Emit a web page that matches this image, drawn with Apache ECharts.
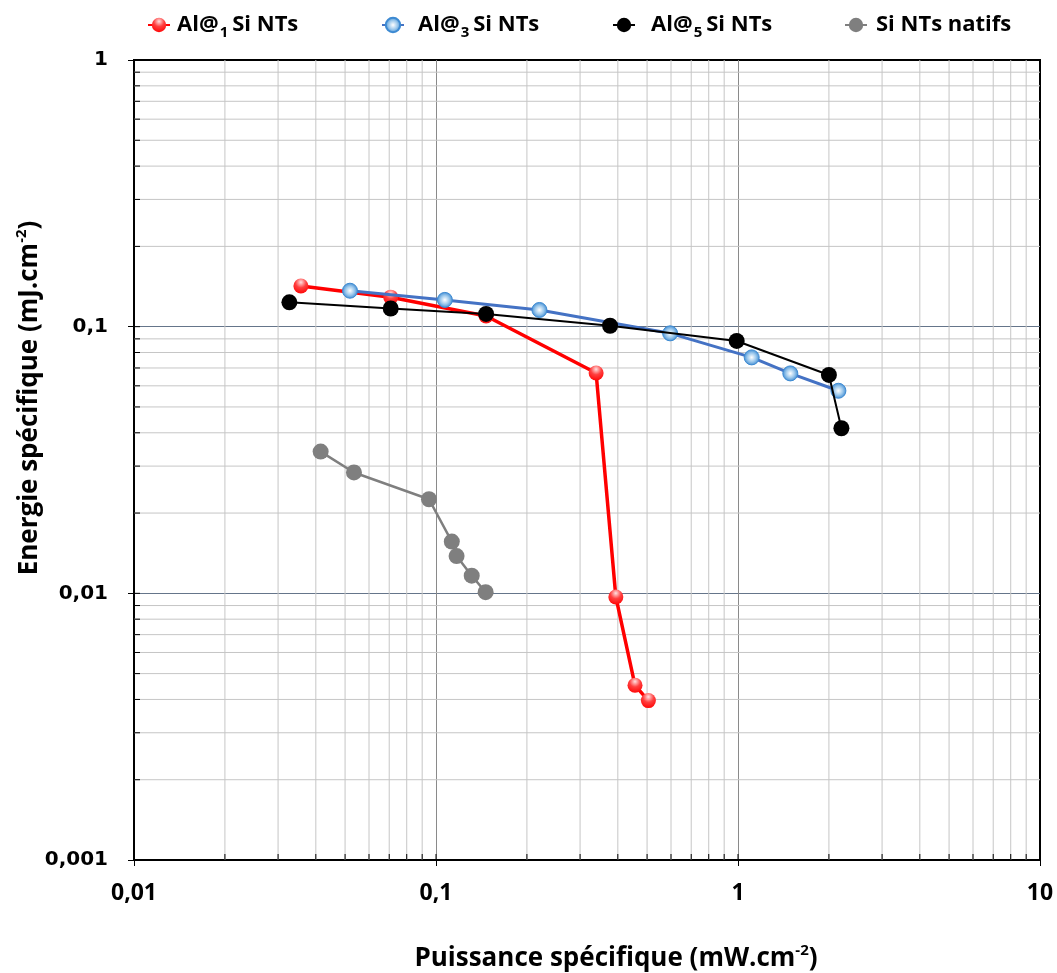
<!DOCTYPE html>
<html>
<head>
<meta charset="utf-8">
<script src="https://cdn.jsdelivr.net/npm/echarts@6/dist/echarts.min.js"></script>
<style>html,body{margin:0;padding:0;background:#fff}#c{width:1057px;height:973px}</style>
</head>
<body>
<div id="c"></div>
<script>
// ---- Data (x: Puissance spécifique mW/cm², y: Energie spécifique mJ/cm²) ----
const al1Power  = [0.0357, 0.0708, 0.1465, 0.339, 0.394, 0.456, 0.505];
const al1Energy = [0.142, 0.129, 0.1096, 0.067, 0.00969, 0.00452, 0.00396];

const al3Power  = [0.0519, 0.107, 0.220, 0.596, 1.11, 1.49, 2.15];
const al3Energy = [0.1364, 0.126, 0.1155, 0.0944, 0.0767, 0.0668, 0.0575];

const al5Power  = [0.0327, 0.0708, 0.1465, 0.377, 0.99, 2.00, 2.20];
const al5Energy = [0.1234, 0.117, 0.1116, 0.1008, 0.0884, 0.0659, 0.0416];

const siPower   = [0.0415, 0.0535, 0.0948, 0.1128, 0.117, 0.1313, 0.146];
const siEnergy  = [0.0340, 0.0284, 0.02253, 0.01563, 0.0138, 0.01165, 0.0101];

const seriesNames = ['Al@1 Si NTs', 'Al@3 Si NTs', 'Al@5 Si NTs', 'Si NTs natifs'];
const legendLabels = ['{n|Al@}{s|1}{n|Si NTs}', '{n|Al@}{s|3}{n|Si NTs}', '{n|Al@}{s|5}{n|Si NTs}', '{n|Si NTs natifs}'];

const xMajorTicks = [0.01, 0.1, 1, 10];
const yMajorTicks = [0.001, 0.01, 0.1, 1];
const xTitle = '{t|Puissance spécifique (mW.cm}{sup|-2}{t|)}';
const yTitle = '{t|Energie spécifique (mJ.cm}{sup|-2}{t|)}';

// minor (2..9) values per decade
function minorValues(decades) {
  const out = [];
  decades.forEach(d => { for (let k = 2; k <= 9; k++) out.push(+(d * k).toPrecision(3)); });
  return out;
}
const xMinor = minorValues([0.01, 0.1, 1]);
const yMinor = minorValues([0.001, 0.01, 0.1]);

const X_MIN = 0.01, X_MAX = 10, Y_MIN = 0.001, Y_MAX = 1;

function pairs(xs, ys) { return xs.map((x, i) => [x, ys[i]]); }

const chart = echarts.init(document.getElementById('c'), null, {renderer: 'canvas'});

const redMarker = {type: 'radial', x: 0.5, y: 0.25, r: 0.8,
  colorStops: [{offset: 0, color: '#ffe0e0'}, {offset: 0.45, color: '#ff4040'}, {offset: 1, color: '#ff0000'}]};
const blueMarker = {type: 'radial', x: 0.5, y: 0.5, r: 0.5,
  colorStops: [{offset: 0, color: '#ffffff'}, {offset: 0.55, color: '#9cc8ec'}, {offset: 1, color: '#3d8ad2'}]};

const gridLineStyle = {stroke: '#c6c6c6', lineWidth: 1};

const xGridSeries = {
  type: 'custom', name: 'xgrid', silent: true, z: 1, clip: false,
  data: xMinor.map(v => [v, 0.01, 1]).concat(xMajorTicks.map(v => [v, 0.01, 0])),
  encode: {x: 0, y: 1},
  renderItem: function (params, api) {
    const v = api.value(0);
    const top = api.coord([v, Y_MAX]);
    const bot = api.coord([v, Y_MIN]);
    const children = [];
    if (api.value(2) === 1) {
      children.push({type: 'line', shape: {x1: top[0], y1: top[1], x2: bot[0], y2: bot[1]}, style: gridLineStyle});
    }
    children.push({type: 'line', shape: {x1: bot[0], y1: bot[1], x2: bot[0], y2: bot[1] - 6}, style: {stroke: '#000', lineWidth: 1}, z2: 10});
    return {type: 'group', children: children};
  }
};
const yGridSeries = {
  type: 'custom', name: 'ygrid', silent: true, z: 1, clip: false,
  data: yMinor.map(v => [0.1, v, 1]).concat(yMajorTicks.map(v => [0.1, v, 0])),
  encode: {x: 0, y: 1},
  renderItem: function (params, api) {
    const v = api.value(1);
    const l = api.coord([X_MIN, v]);
    const r = api.coord([X_MAX, v]);
    const children = [];
    if (api.value(2) === 1) {
      children.push({type: 'line', shape: {x1: l[0], y1: l[1], x2: r[0], y2: r[1]}, style: gridLineStyle});
    }
    children.push({type: 'line', shape: {x1: l[0], y1: l[1], x2: l[0] + 6, y2: l[1]}, style: {stroke: '#000', lineWidth: 1}, z2: 10});
    return {type: 'group', children: children};
  }
};

function fmt(v) { return String(parseFloat(Number(v).toPrecision(6))).replace('.', ','); }

const legendRich = {
  n: {fontFamily: 'Open Sans', fontWeight: 'bold', fontSize: 22, color: '#000', lineHeight: 30},
  s: {fontFamily: 'Open Sans', fontWeight: 'bold', fontSize: 15, color: '#000', verticalAlign: 'bottom', lineHeight: 22, padding: [0, 4, 0, 1]}
};
const legendLefts = [142, 376, 607, 839];
const legendTextPad = [2, 9, 11, 4];
const legends = seriesNames.map((nm, i) => ({
  data: [nm], left: legendLefts[i], top: 9, itemWidth: 22, itemHeight: 18, itemGap: 6,
  formatter: () => legendLabels[i],
  textStyle: {rich: legendRich, padding: [0, 0, 0, legendTextPad[i]]}
}));

const titleRich = {
  t: {fontFamily: 'Open Sans', fontWeight: 'bold', fontSize: 26, color: '#000', lineHeight: 32},
  sup: {fontFamily: 'Open Sans', fontWeight: 'bold', fontSize: 15, color: '#000', verticalAlign: 'top', lineHeight: 32}
};

const option = {
  backgroundColor: '#fff',
  animation: false,
  legend: legends,
  grid: {left: 134, right: 17, top: 60, bottom: 113, outerBoundsMode: 'none', containLabel: false,
         show: true, borderColor: '#000', borderWidth: 2, backgroundColor: 'transparent'},
  xAxis: {
    type: 'log', logBase: 10, min: X_MIN, max: X_MAX,
    axisLine: {show: true, lineStyle: {color: '#000', width: 2}},
    axisTick: {show: true, inside: false, length: 6, lineStyle: {color: '#000'}},
    axisLabel: {formatter: fmt, margin: 22, fontFamily: 'Open Sans', fontWeight: 'bold', fontSize: 23, color: '#000'},
    splitLine: {show: true, showMinLine: false, showMaxLine: false, lineStyle: {color: '#8a8a8a', width: 1}},
    name: xTitle, nameLocation: 'middle', nameGap: 83,
    nameTextStyle: {rich: titleRich, padding: [0, 0, 0, 58]}
  },
  yAxis: {
    type: 'log', logBase: 10, min: Y_MIN, max: Y_MAX,
    axisLine: {show: true, lineStyle: {color: '#000', width: 2}},
    axisTick: {show: true, inside: false, length: 6, lineStyle: {color: '#000'}},
    axisLabel: {formatter: fmt, margin: 26, fontFamily: 'DejaVu Sans', fontWeight: 'bold', fontSize: 20, color: '#000'},
    splitLine: {show: true, showMinLine: false, showMaxLine: false, lineStyle: {color: '#65758a', width: 1}},
    name: yTitle, nameLocation: 'middle', nameGap: 88, nameRotate: 90, nameMoveOverlap: false,
    nameTextStyle: {rich: titleRich, padding: [0, 0, 0, 124]}
  },
  series: [
    xGridSeries, yGridSeries,
    {name: seriesNames[0], type: 'line', data: pairs(al1Power, al1Energy), symbol: 'circle', symbolSize: 15,
     lineStyle: {color: '#ff0000', width: 3.5}, itemStyle: {color: redMarker, borderWidth: 0}, z: 3},
    {name: seriesNames[1], type: 'line', data: pairs(al3Power, al3Energy), symbol: 'circle', symbolSize: 15,
     lineStyle: {color: '#4472c4', width: 3}, itemStyle: {color: blueMarker, borderColor: '#3d8ad2', borderWidth: 1}, z: 4},
    {name: seriesNames[2], type: 'line', data: pairs(al5Power, al5Energy), symbol: 'circle', symbolSize: 16,
     lineStyle: {color: '#000000', width: 2}, itemStyle: {color: '#000000'}, z: 5},
    {name: seriesNames[3], type: 'line', data: pairs(siPower, siEnergy), symbol: 'circle', symbolSize: 16,
     lineStyle: {color: '#7f7f7f', width: 2.5}, itemStyle: {color: '#7f7f7f'}, z: 6}
  ]
};
chart.setOption(option);
</script>
</body>
</html>
